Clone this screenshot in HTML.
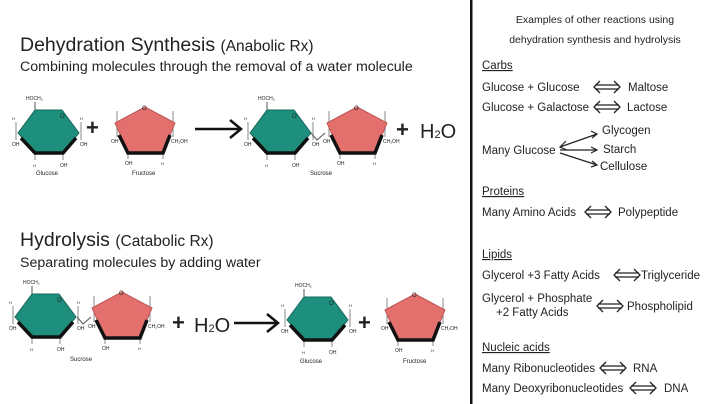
<!DOCTYPE html>
<html><head><meta charset="utf-8"><style>
html,body{margin:0;padding:0;background:#fff;width:720px;height:404px;overflow:hidden}
svg{display:block}
text{font-family:"Liberation Sans",sans-serif;fill:#222}
</style></head><body>
<svg width="720" height="404" viewBox="0 0 720 404" xmlns="http://www.w3.org/2000/svg">
<defs>
<g id="hex">
<line x1="17" y1="0" x2="17" y2="-8" stroke="#555" stroke-width="1"/>
<line x1="-2" y1="12" x2="-2" y2="30" stroke="#888"/>
<line x1="63" y1="12" x2="63" y2="30" stroke="#888"/>
<line x1="17" y1="42" x2="17" y2="50" stroke="#888"/>
<line x1="45" y1="42" x2="45" y2="50" stroke="#888"/>
<polygon points="17,0 44,0 61,23 45,42 17,42 0,23" fill="#1f8f7d" stroke="#17695c" stroke-width="1"/>
<polyline points="3,28 17,43 45,43 58,28" fill="none" stroke="#111" stroke-width="3.5"/>
<text x="8" y="-10" font-size="5">HOCH₂</text>
<text x="-6" y="10" font-size="4">H</text><text x="62" y="10" font-size="4">H</text>
<text x="-6" y="36" font-size="5">OH</text><text x="62" y="36" font-size="5">OH</text>
<text x="15" y="57" font-size="4">H</text><text x="42" y="57" font-size="5">OH</text>
<text x="42" y="8" font-size="6" fill="#cfe">O</text>
</g>
<g id="pent">
<line x1="2" y1="4" x2="2" y2="30" stroke="#888"/>
<line x1="58" y1="4" x2="58" y2="30" stroke="#888"/>
<line x1="13" y1="45" x2="13" y2="52" stroke="#888"/>
<line x1="48" y1="45" x2="48" y2="52" stroke="#888"/>
<polygon points="30,0 60,16 48,45 13,45 0,16" fill="#e4706e" stroke="#b55" stroke-width="1"/>
<polyline points="4,28 13,46 48,46 55,28" fill="none" stroke="#111" stroke-width="3.5"/>
<text x="27" y="3" font-size="6">O</text>
<text x="-4" y="36" font-size="5">OH</text><text x="56" y="36" font-size="5">CH₂OH</text>
<text x="10" y="58" font-size="5">OH</text><text x="46" y="58" font-size="4">H</text>
</g>
<g id="dbl" fill="none" stroke="#222" stroke-width="1.3">
<line x1="1" y1="-2" x2="25" y2="-2"/><line x1="1" y1="2" x2="25" y2="2"/>
<polyline points="6,-6 0,0 6,6"/><polyline points="20,-6 26,0 20,6"/>
</g>
</defs>

<rect x="470" y="0" width="2.5" height="404" fill="#111"/>

<text x="20" y="51" font-size="19.5">Dehydration Synthesis <tspan font-size="15.5">(Anabolic Rx)</tspan></text>
<text x="20" y="71" font-size="14.2">Combining molecules through the removal of a water molecule</text>

<use href="#hex" x="18" y="110"/>
<text x="86" y="135" font-size="22" font-weight="bold">+</text>
<use href="#pent" x="115" y="107"/>
<text x="36" y="175" font-size="6">Glucose</text>
<text x="132" y="175" font-size="6">Fructose</text>
<line x1="195" y1="129" x2="240" y2="129" stroke="#111" stroke-width="2.5"/>
<polyline points="230,120 241,129 230,138" fill="none" stroke="#111" stroke-width="2.5"/>
<use href="#hex" x="250" y="110"/>
<polyline points="311,133 317,140 325,133" fill="none" stroke="#555"/>
<use href="#pent" x="327" y="107"/>
<text x="310" y="175" font-size="6">Sucrose</text>
<text x="396" y="137" font-size="22" font-weight="bold">+</text>
<text x="420" y="138" font-size="20">H<tspan font-size="11">2</tspan>O</text>

<text x="20" y="246" font-size="19.5">Hydrolysis <tspan font-size="15.5">(Catabolic Rx)</tspan></text>
<text x="20" y="267" font-size="14.2">Separating molecules by adding water</text>

<use href="#hex" x="15" y="294"/>
<polyline points="77,317 83,324 91,317" fill="none" stroke="#555"/>
<use href="#pent" x="92" y="292"/>
<text x="70" y="361" font-size="6">Sucrose</text>
<text x="172" y="330" font-size="22" font-weight="bold">+</text>
<text x="194" y="332" font-size="20">H<tspan font-size="11">2</tspan>O</text>
<line x1="234" y1="323" x2="277" y2="323" stroke="#111" stroke-width="2.5"/>
<polyline points="267,314 278,323 267,332" fill="none" stroke="#111" stroke-width="2.5"/>
<use href="#hex" x="287" y="297"/>
<text x="300" y="363" font-size="6">Glucose</text>
<text x="358" y="330" font-size="22" font-weight="bold">+</text>
<use href="#pent" x="385" y="294"/>
<text x="403" y="363" font-size="6">Fructose</text>

<g font-size="11.5">
<text x="595" y="23" font-size="10.5" text-anchor="middle">Examples of other reactions using</text>
<text x="595" y="43" font-size="10.5" text-anchor="middle">dehydration synthesis and hydrolysis</text>
<text x="482" y="69" text-decoration="underline">Carbs</text>
<text x="482" y="91">Glucose + Glucose</text>
<use href="#dbl" x="594" y="87"/>
<text x="628" y="91">Maltose</text>
<text x="482" y="111">Glucose + Galactose</text>
<use href="#dbl" x="594" y="107"/>
<text x="627" y="111">Lactose</text>
<text x="482" y="154">Many Glucose</text>
<text x="602" y="134">Glycogen</text>
<text x="603" y="153">Starch</text>
<text x="600" y="170">Cellulose</text>
<g stroke="#222" stroke-width="1.2" fill="none">
<line x1="560" y1="147" x2="597" y2="134"/><line x1="560" y1="150" x2="597" y2="150"/><line x1="560" y1="153" x2="597" y2="165"/>
<polyline points="566,141 560,147 567,150"/><polyline points="591,131 597,134 592,138"/><polyline points="591,147 597,150 591,153"/><polyline points="592,161 597,165 591,167"/>
</g>
<text x="482" y="195" text-decoration="underline">Proteins</text>
<text x="482" y="216">Many Amino Acids</text>
<use href="#dbl" x="585" y="212"/>
<text x="618" y="216">Polypeptide</text>
<text x="482" y="258" text-decoration="underline">Lipids</text>
<text x="482" y="279">Glycerol +3 Fatty Acids</text>
<use href="#dbl" x="614" y="275"/>
<text x="641" y="279">Triglyceride</text>
<text x="482" y="302">Glycerol + Phosphate</text>
<text x="496" y="316">+2 Fatty Acids</text>
<use href="#dbl" x="597" y="306"/>
<text x="627" y="310">Phospholipid</text>
<text x="482" y="351" text-decoration="underline">Nucleic acids</text>
<text x="482" y="372">Many Ribonucleotides</text>
<use href="#dbl" x="600" y="368"/>
<text x="633" y="372">RNA</text>
<text x="482" y="392">Many Deoxyribonucleotides</text>
<use href="#dbl" x="630" y="388"/>
<text x="664" y="392">DNA</text>
</g>
</svg>
</body></html>
